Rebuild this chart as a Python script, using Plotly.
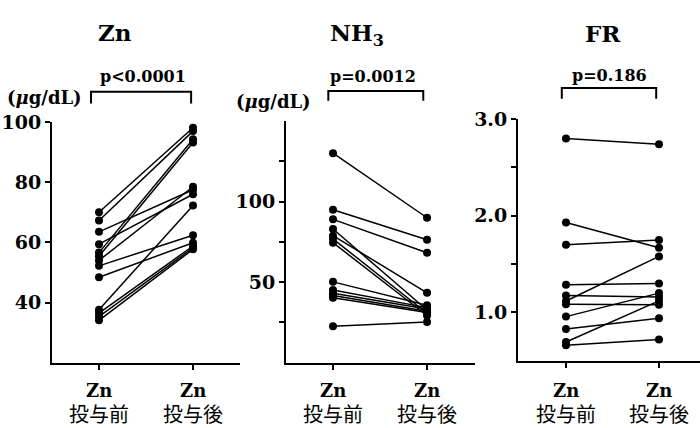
import plotly.graph_objects as go

# ---- data ----
categories = ["Zn投与前", "Zn投与後"]
zn_before = [70.0, 67.3, 63.5, 59.4, 56.6, 55.4, 54.0, 52.2, 48.4, 37.6, 36.5, 35.3, 34.1]
zn_after = [98.1, 97.0, 77.5, 76.0, 94.3, 93.2, 78.5, 62.4, 59.9, 72.3, 58.8, 58.2, 57.7]
nh3_before = [130.1, 95.0, 89.0, 83.0, 78.9, 76.9, 74.5, 50.2, 45.2, 43.2, 41.8, 40.4, 22.7]
nh3_after = [90.0, 76.3, 68.3, 32.7, 43.4, 30.7, 29.3, 35.7, 34.2, 33.4, 32.0, 31.2, 25.3]
fr_before = [2.80, 1.93, 1.70, 1.286, 1.175, 1.118, 1.084, 0.957, 0.828, 0.694, 0.66]
fr_after = [2.74, 1.67, 1.75, 1.30, 1.16, 1.58, 1.08, 1.20, 0.94, 1.12, 0.72]
titles = ["<b>Zn</b>", "<b>NH<sub>3</sub></b>", "<b>FR</b>"]
pvalues = ["<b>p&lt;0.0001</b>", "<b>p=0.0012</b>", "<b>p=0.186</b>"]
unit_label = "<b>(<i>μ</i>g/dL)</b>"
zn_ticks = [40, 60, 80, 100]
zn_ticktext = ["40", "60", "80", "100"]
nh3_ticks = [50, 100]
nh3_ticktext = ["50", "100"]
nh3_minor = [25, 75, 125]
fr_ticks = [1.0, 2.0, 3.0]
fr_ticktext = ["1.0", "2.0", "3.0"]
fr_minor = [1.5, 2.5]

W, H = 700, 428
SERIF = "DejaVu Serif"
CJK = "Noto Sans CJK JP"


def px(x):
    return x / W


def py(y):
    return 1 - y / H


fig = go.Figure()

panels = [
    (zn_before, zn_after, "x", "y"),
    (nh3_before, nh3_after, "x2", "y2"),
    (fr_before, fr_after, "x3", "y3"),
]
for before, after, xa, ya in panels:
    for b, a in zip(before, after):
        fig.add_trace(go.Scatter(
            x=[0, 1], y=[b, a], mode="lines+markers", xaxis=xa, yaxis=ya,
            line=dict(color="black", width=1.5),
            marker=dict(color="black", size=8),
            showlegend=False, hoverinfo="skip"))

axis_common = dict(showline=True, linecolor="black", linewidth=2, ticks="outside",
                   ticklen=5, tickwidth=2, tickcolor="black", showgrid=False,
                   zeroline=False, fixedrange=True)
minor_style = dict(ticks="outside", ticklen=5, tickwidth=2, tickcolor="black", showgrid=False)
tickfont = dict(family=SERIF, size=19, color="black")


def bold(lst):
    return ["<b>%s</b>" % t for t in lst]


fig.update_layout(
    width=W, height=H, margin=dict(l=0, r=0, t=0, b=0),
    paper_bgcolor="white", plot_bgcolor="white",
    font=dict(family=SERIF, color="black", size=18),
    xaxis=dict(domain=[px(52), px(240)], range=[-0.5, 1.5], anchor="y",
               tickvals=[0, 1], showticklabels=False, **axis_common),
    yaxis=dict(domain=[py(361), py(114)], range=[20, 100], anchor="x",
               tickvals=zn_ticks, ticktext=bold(zn_ticktext), tickfont=tickfont, **axis_common),
    xaxis2=dict(domain=[px(286), px(475)], range=[-0.5, 1.51], anchor="y2",
                tickvals=[0, 1], showticklabels=False, **axis_common),
    yaxis2=dict(domain=[py(361), py(113)], range=[0, 150], anchor="x2",
                tickvals=nh3_ticks, ticktext=bold(nh3_ticktext), tickfont=tickfont,
                minor=dict(tickvals=nh3_minor, **minor_style), **axis_common),
    xaxis3=dict(domain=[px(518), 1.0], range=[-0.516, 1.441], anchor="y3",
                tickvals=[0, 1], showticklabels=False, **axis_common),
    yaxis3=dict(domain=[py(359), py(111)], range=[0.5, 3.0], anchor="x3",
                tickvals=fr_ticks, ticktext=bold(fr_ticktext), tickfont=tickfont,
                minor=dict(tickvals=fr_minor, **minor_style), **axis_common),
)

annotations = []
title_pos = [(115, 22), (357, 24), (603, 23)]
pval_pos = [(143, 67), (373, 67), (609, 66)]
for t, (x, y) in zip(titles, title_pos):
    annotations.append(dict(text=t, x=px(x), y=py(y), xref="paper", yref="paper",
                            showarrow=False, font=dict(family=SERIF, size=23),
                            xanchor="center", yanchor="middle"))
for t, (x, y) in zip(pvalues, pval_pos):
    annotations.append(dict(text=t, x=px(x), y=py(y), xref="paper", yref="paper",
                            showarrow=False, font=dict(family=SERIF, size=16),
                            xanchor="center", yanchor="middle"))
for (x, y) in [(45, 89), (273, 93)]:
    annotations.append(dict(text=unit_label, x=px(x), y=py(y), xref="paper", yref="paper",
                            showarrow=False, font=dict(family=SERIF, size=18),
                            xanchor="center", yanchor="middle"))

# x category labels
for xa in ["x", "x2", "x3"]:
    for i, cat in enumerate(categories):
        annotations.append(dict(text="<b>%s</b>" % cat[:2], x=i, xref=xa, y=py(389), yref="paper",
                                showarrow=False, font=dict(family=SERIF, size=18),
                                xanchor="center", yanchor="middle"))
        annotations.append(dict(text=cat[2:], x=i, xref=xa, y=py(413), yref="paper",
                                showarrow=False, font=dict(family=CJK, size=20),
                                xanchor="center", yanchor="middle"))
fig.update_layout(annotations=annotations)

# brackets
shapes = []
brackets = [("x", 83, 95, -0.085, 0.98), ("x2", 82, 92, -0.05, 0.96), ("x3", 79, 90, -0.045, 0.97)]
for xa, ytop, ybot, x0, x1 in brackets:
    shapes.append(dict(type="path", xref=xa, yref="paper",
                       path="M %f,%f L %f,%f L %f,%f L %f,%f" % (x0, py(ybot), x0, py(ytop), x1, py(ytop), x1, py(ybot)),
                       line=dict(color="black", width=2)))
fig.update_layout(shapes=shapes)

fig.write_html("out.html")
